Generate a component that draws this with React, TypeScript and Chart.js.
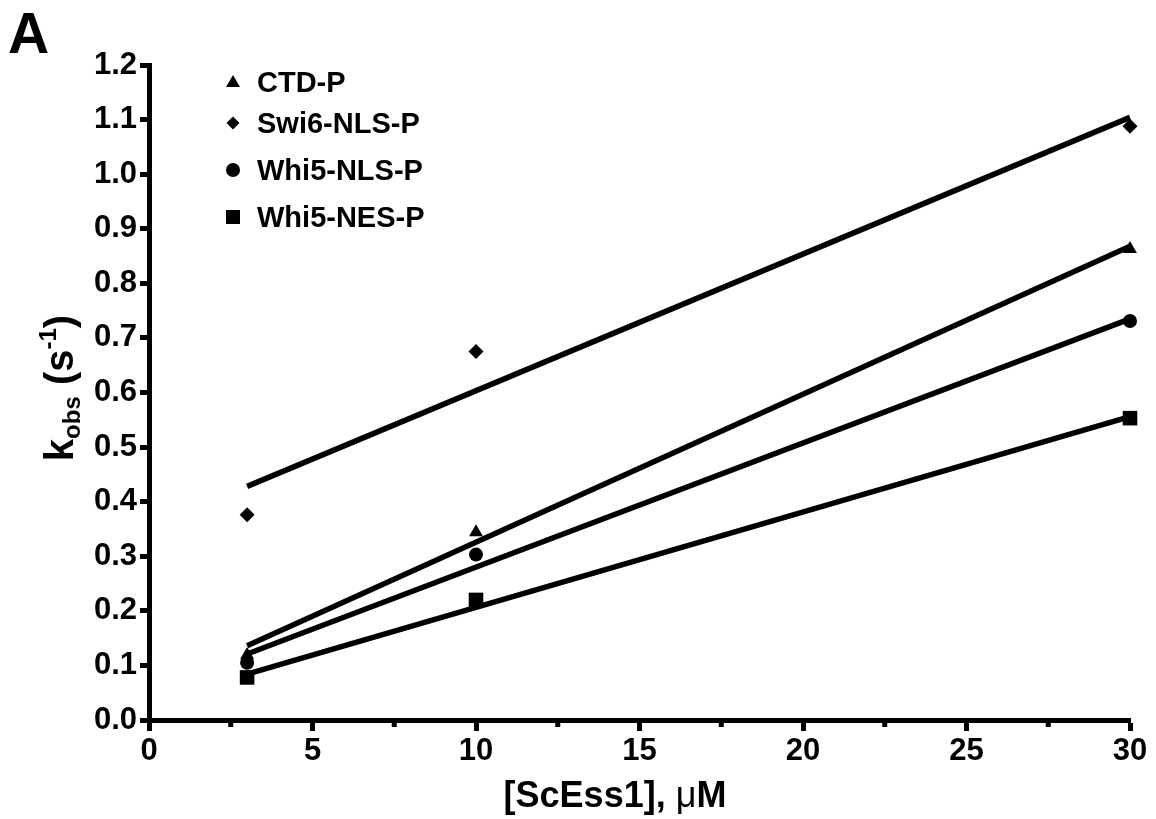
import React, { useEffect, useRef } from 'react';
import { Chart, registerables } from 'chart.js';

Chart.register(...registerables);

// ---- data ----
const concentrations = [3, 10, 30];
const ctdP = [0.119, 0.344, 0.863];
const swi6NlsP = [0.376, 0.675, 1.088];
const whi5NlsP = [0.105, 0.303, 0.731];
const whi5NesP = [0.078, 0.22, 0.553];

// fitted straight lines (end points)
const fitRange = [3, 30];
const ctdFit = [0.136, 0.868];
const swi6Fit = [0.428, 1.104];
const whi5NlsFit = [0.121, 0.735];
const whi5NesFit = [0.084, 0.556];

const seriesNames = ['CTD-P', 'Swi6-NLS-P', 'Whi5-NLS-P', 'Whi5-NES-P'];
const seriesStyles = ['triangle', 'rectRot', 'circle', 'rect'];
const minorXTicks = [2.5, 7.5, 12.5, 17.5, 22.5, 27.5];

const FONT = '"Liberation Sans", Arial, Helvetica, sans-serif';

const toPoints = (xs: number[], ys: number[]) => xs.map((x, i) => ({ x, y: ys[i] }));

function drawMarker(ctx: CanvasRenderingContext2D, style: string, x: number, y: number) {
  ctx.beginPath();
  if (style === 'triangle') {
    ctx.moveTo(x, y - 7);
    ctx.lineTo(x + 7, y + 5);
    ctx.lineTo(x - 7, y + 5);
    ctx.closePath();
  } else if (style === 'rectRot') {
    ctx.moveTo(x, y - 6.5);
    ctx.lineTo(x + 6.5, y);
    ctx.lineTo(x, y + 6.5);
    ctx.lineTo(x - 6.5, y);
    ctx.closePath();
  } else if (style === 'circle') {
    ctx.arc(x, y, 7, 0, Math.PI * 2);
  } else {
    ctx.rect(x - 7, y - 7, 14, 14);
  }
  ctx.fill();
}

const decorPlugin = {
  id: 'decor',
  afterDraw(chart: any) {
    const ctx: CanvasRenderingContext2D = chart.ctx;
    const xs = chart.scales.x;
    const area = chart.chartArea;
    ctx.save();
    ctx.fillStyle = '#000';

    // minor x ticks
    for (const v of minorXTicks) {
      const px = xs.getPixelForValue(v);
      ctx.fillRect(px - 2.5, area.bottom, 5, 7);
    }

    // panel letter
    ctx.textAlign = 'left';
    ctx.textBaseline = 'alphabetic';
    ctx.font = `bold 57px ${FONT}`;
    ctx.fillText('A', 8, 53);

    // legend
    const rowY = [82, 123, 170, 217];
    ctx.font = `bold 29px ${FONT}`;
    seriesNames.forEach((name, i) => {
      drawMarker(ctx, seriesStyles[i], 233, rowY[i]);
      ctx.fillText(name, 257, rowY[i] + 10);
    });

    // x axis title
    const bigB = `bold 36px ${FONT}`;
    const bigR = `36px ${FONT}`;
    const parts: [string, string][] = [
      ['[ScEss1], ', bigB],
      ['\u03bc', bigR],
      ['M', bigB],
    ];
    let total = 0;
    for (const [t, f] of parts) {
      ctx.font = f;
      total += ctx.measureText(t).width;
    }
    let cx = 615 - total / 2;
    for (const [t, f] of parts) {
      ctx.font = f;
      ctx.fillText(t, cx, 807);
      cx += ctx.measureText(t).width;
    }

    // y axis title (rotated) with sub/superscripts
    const yb = `bold 40px ${FONT}`;
    const ys = `bold 24px ${FONT}`;
    const yparts: [string, string, number][] = [
      ['k', yb, 0],
      ['obs', ys, 7],
      [' (s', yb, 0],
      ['-1', ys, -17],
      [')', yb, 0],
    ];
    let ytotal = 0;
    for (const [t, f] of yparts) {
      ctx.font = f;
      ytotal += ctx.measureText(t).width;
    }
    ctx.translate(73, 388);
    ctx.rotate(-Math.PI / 2);
    let tx = -ytotal / 2;
    for (const [t, f, dy] of yparts) {
      ctx.font = f;
      ctx.fillText(t, tx, dy);
      tx += ctx.measureText(t).width;
    }
    ctx.restore();
  },
};

export default function App() {
  const ref = useRef<HTMLCanvasElement | null>(null);

  useEffect(() => {
    if (!ref.current) return;
    Chart.defaults.color = '#000';
    const seriesData = [ctdP, swi6NlsP, whi5NlsP, whi5NesP];
    const fits = [ctdFit, swi6Fit, whi5NlsFit, whi5NesFit];
    const radii = [8, 7.5, 7, 10.3];

    const scatterSets = seriesData.map((vals, i) => ({
      type: 'scatter' as const,
      label: seriesNames[i],
      data: toPoints(concentrations, vals),
      pointStyle: seriesStyles[i],
      pointRadius: radii[i],
      pointBackgroundColor: '#000',
      pointBorderWidth: 0,
      showLine: false,
      clip: false,
    }));
    const fitSets = fits.map((vals, i) => ({
      type: 'line' as const,
      label: seriesNames[i] + ' fit',
      data: toPoints(fitRange, vals),
      borderColor: '#000',
      borderWidth: 5.5,
      pointRadius: 0,
      fill: false,
      tension: 0,
      clip: false,
    }));

    const chart = new Chart(ref.current, {
      type: 'scatter',
      data: { datasets: [...scatterSets, ...fitSets] as any },
      options: {
        animation: false,
        responsive: false,
        maintainAspectRatio: false,
        layout: { padding: { top: 65, right: 26, left: 0, bottom: 0 } },
        plugins: { legend: { display: false }, tooltip: { enabled: false } },
        scales: {
          x: {
            type: 'linear',
            min: 0,
            max: 30,
            afterFit: (s: any) => {
              s.height = 99;
            },
            ticks: {
              stepSize: 5,
              padding: 2,
              maxRotation: 0,
              autoSkip: false,
              color: '#000',
              font: { family: FONT, size: 31, weight: 'bold' },
            },
            grid: {
              display: true,
              drawOnChartArea: false,
              drawTicks: true,
              tickLength: 11,
              tickWidth: 5,
              tickColor: '#000',
            },
            border: { display: true, color: '#000', width: 5 },
          },
          y: {
            type: 'linear',
            min: 0,
            max: 1.2,
            afterFit: (s: any) => {
              s.width = 149;
            },
            ticks: {
              stepSize: 0.1,
              padding: 3,
              color: '#000',
              font: { family: FONT, size: 31, weight: 'bold' },
              callback: (v: any) => Number(v).toFixed(1),
            },
            grid: {
              display: true,
              drawOnChartArea: false,
              drawTicks: true,
              tickLength: 9,
              tickWidth: 5,
              tickColor: '#000',
            },
            border: { display: true, color: '#000', width: 5 },
          },
        },
      } as any,
      plugins: [decorPlugin],
    });
    return () => chart.destroy();
  }, []);

  return (
    <div style={{ position: 'absolute', left: 0, top: 0, width: 1156, height: 819, background: '#fff' }}>
      <canvas ref={ref} width={1156} height={819} style={{ width: 1156, height: 819, display: 'block' }} />
    </div>
  );
}
